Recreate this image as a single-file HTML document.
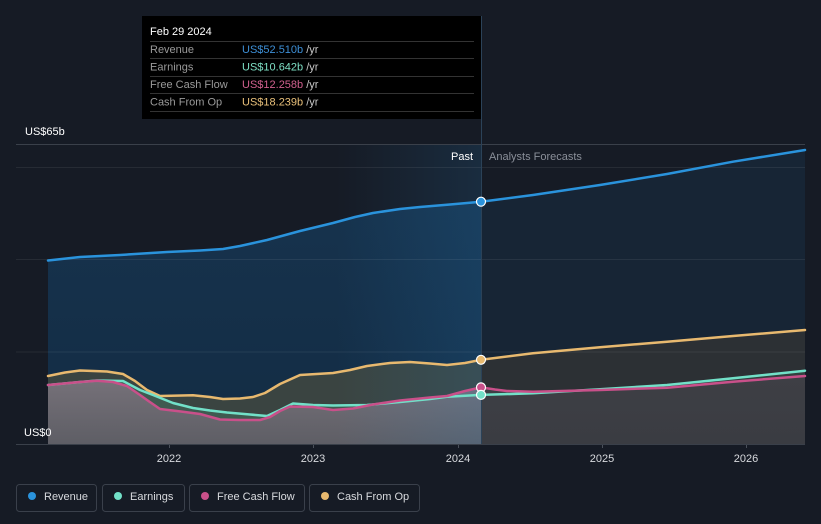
<!DOCTYPE html>
<html>
<head>
<meta charset="utf-8">
<style>
  html,body{margin:0;padding:0;background:#161b25;}
  body{width:821px;height:524px;overflow:hidden;}
  svg{display:block;font-family:"Liberation Sans",sans-serif;}
</style>
</head>
<body>
<svg width="821" height="524" viewBox="0 0 821 524" xmlns="http://www.w3.org/2000/svg">
  <defs>
    <clipPath id="past"><rect x="48" y="100" width="433" height="344.5"/></clipPath>
    <clipPath id="fut"><rect x="481" y="100" width="324" height="344.5"/></clipPath>
    <linearGradient id="hl" x1="0" y1="0" x2="1" y2="0">
      <stop offset="0" stop-color="#2a86c8" stop-opacity="0"/>
      <stop offset="1" stop-color="#2a86c8" stop-opacity="0.16"/>
    </linearGradient>
    <linearGradient id="revPast" x1="0" y1="0" x2="0" y2="1">
      <stop offset="0" stop-color="#17344f"/>
      <stop offset="1" stop-color="#132c44"/>
    </linearGradient>
    <linearGradient id="greyPast" x1="0" y1="0" x2="0" y2="1">
      <stop offset="0" stop-color="#77727a"/>
      <stop offset="1" stop-color="#5e5e65"/>
    </linearGradient>
    <linearGradient id="greyFut" x1="0" y1="0" x2="0" y2="1">
      <stop offset="0" stop-color="#3e3f45"/>
      <stop offset="1" stop-color="#3a3c42"/>
    </linearGradient>
  </defs>

  <rect x="0" y="0" width="821" height="524" fill="#161b25"/>

  <!-- PAST areas -->
  <g clip-path="url(#past)">
    <path fill="url(#revPast)" d="M48,444 L48,260.5 L80,257 L120,255 L167,252 L200,250.5 L223,249 L240,246 L267,240 L300,231 L333,223 L355,217 L373,213 L400,209 L420,207 L450,204.5 L481,201.7 L533,195 L600,185 L667,174 L733,161.7 L805,150 L805,444 Z"/>
    <path fill="#3a4441" d="M48,444 L48,376 L65,372.5 L80,370.5 L107,371.5 L123,374 L135,381 L147,390 L160,396 L193,395.3 L210,397 L223,399 L240,398.5 L253,397 L265,393 L280,384 L300,375 L333,373 L350,370 L367,366 L390,363 L410,362 L430,363.5 L447,365 L465,363 L481,359.8 L533,353.3 L600,347.3 L667,341.7 L733,336 L805,330 L805,444 Z"/>
    <path fill="#3f5a50" d="M48,444 L48,385 L80,382 L97,380.5 L123,381 L140,390 L153,395 L173,403 L193,408 L210,410.5 L227,412.5 L250,414.5 L267,416 L280,410 L293,403.5 L313,405 L333,405.5 L367,405 L400,402 L430,399 L447,396.7 L481,394.9 L533,393.3 L600,389.3 L667,385 L733,378.3 L805,370.7 L805,444 Z"/>
    <path fill="url(#greyPast)" d="M48,444 L48,385 L80,382 L97,380.7 L113,382 L127,386 L140,395 L147,400 L160,409 L183,411.7 L200,414 L220,419.5 L240,420 L260,420 L270,417 L280,411 L290,406.5 L313,407 L333,410 L353,408.5 L373,404.5 L400,400.5 L430,397.5 L447,396 L465,391 L481,387.4 L495,389.5 L507,391 L533,391.7 L600,390 L667,387.7 L733,381.7 L805,376 L805,444 Z"/>
  </g>

  <!-- FUTURE areas -->
  <g clip-path="url(#fut)">
    <path fill="#172535" d="M48,444 L48,260.5 L481,201.7 L533,195 L600,185 L667,174 L733,161.7 L805,150 L805,444 Z"/>
    <path fill="#2c3034" d="M48,444 L481,359.8 L533,353.3 L600,347.3 L667,341.7 L733,336 L805,330 L805,444 Z"/>
    <path fill="#33403f" d="M48,444 L481,394.9 L533,393.3 L600,389.3 L667,385 L733,378.3 L805,370.7 L805,444 Z"/>
    <path fill="url(#greyFut)" d="M48,444 L481,387.4 L495,389.5 L507,391 L533,391.7 L600,390 L667,387.7 L733,381.7 L805,376 L805,444 Z"/>
  </g>

  <!-- past highlight band -->
  <rect x="336" y="145" width="145" height="299" fill="url(#hl)"/>

  <!-- gridlines (over fills) -->
  <line x1="16" y1="144.5" x2="805" y2="144.5" stroke="#3a404a" stroke-width="1"/>
  <line x1="16" y1="167.5" x2="805" y2="167.5" stroke="#ffffff" stroke-opacity="0.07" stroke-width="1"/>
  <line x1="16" y1="259.5" x2="805" y2="259.5" stroke="#ffffff" stroke-opacity="0.07" stroke-width="1"/>
  <line x1="16" y1="352" x2="805" y2="352" stroke="#ffffff" stroke-opacity="0.07" stroke-width="1"/>

  <!-- baseline -->
  <line x1="16" y1="444.5" x2="805" y2="444.5" stroke="#3a404a" stroke-width="1"/>
  <!-- ticks -->
  <g stroke="#4a505a" stroke-width="1">
    <line x1="169.5" y1="445" x2="169.5" y2="448"/>
    <line x1="313.5" y1="445" x2="313.5" y2="448"/>
    <line x1="458.5" y1="445" x2="458.5" y2="448"/>
    <line x1="602.5" y1="445" x2="602.5" y2="448"/>
    <line x1="746.5" y1="445" x2="746.5" y2="448"/>
  </g>

  <!-- vertical divider -->
  <line x1="481.5" y1="16" x2="481.5" y2="444" stroke="#2b4258" stroke-width="1"/>

  <!-- lines -->
  <g fill="none" stroke-width="2.5" stroke-linejoin="round" stroke-linecap="round">
    <path stroke="#2a93dc" d="M48,260.5 L80,257 L120,255 L167,252 L200,250.5 L223,249 L240,246 L267,240 L300,231 L333,223 L355,217 L373,213 L400,209 L420,207 L450,204.5 L481,201.7 L533,195 L600,185 L667,174 L733,161.7 L805,150"/>
    <path stroke="#e8b96f" d="M48,376 L65,372.5 L80,370.5 L107,371.5 L123,374 L135,381 L147,390 L160,396 L193,395.3 L210,397 L223,399 L240,398.5 L253,397 L265,393 L280,384 L300,375 L333,373 L350,370 L367,366 L390,363 L410,362 L430,363.5 L447,365 L465,363 L481,359.8 L533,353.3 L600,347.3 L667,341.7 L733,336 L805,330"/>
    <path stroke="#72e0c8" d="M48,385 L80,382 L97,380.5 L123,381 L140,390 L153,395 L173,403 L193,408 L210,410.5 L227,412.5 L250,414.5 L267,416 L280,410 L293,403.5 L313,405 L333,405.5 L367,405 L400,402 L430,399 L447,396.7 L481,394.9 L533,393.3 L600,389.3 L667,385 L733,378.3 L805,370.7"/>
    <path stroke="#c9508a" d="M48,385 L80,382 L97,380.7 L113,382 L127,386 L140,395 L147,400 L160,409 L183,411.7 L200,414 L220,419.5 L240,420 L260,420 L270,417 L280,411 L290,406.5 L313,407 L333,410 L353,408.5 L373,404.5 L400,400.5 L430,397.5 L447,396 L465,391 L481,387.4 L495,389.5 L507,391 L533,391.7 L600,390 L667,387.7 L733,381.7 L805,376"/>
  </g>

  <!-- dots -->
  <g stroke="#ffffff" stroke-width="1.2">
    <circle cx="481" cy="201.7" r="4.5" fill="#2a93dc"/>
    <circle cx="481" cy="359.8" r="4.5" fill="#e8b96f"/>
    <circle cx="481" cy="387.4" r="4.5" fill="#c9508a"/>
    <circle cx="481" cy="394.9" r="4.5" fill="#72e0c8"/>
  </g>

  <!-- axis labels -->
  <g font-size="11" fill="#ffffff">
    <text x="25" y="135">US$65b</text>
    <text x="24" y="436">US$0</text>
  </g>
  <g font-size="11" fill="#d8dade" text-anchor="middle">
    <text x="169" y="462">2022</text>
    <text x="313" y="462">2023</text>
    <text x="458" y="462">2024</text>
    <text x="602" y="462">2025</text>
    <text x="746" y="462">2026</text>
  </g>
  <text x="473" y="160" font-size="11" fill="#ffffff" text-anchor="end">Past</text>
  <text x="489" y="160" font-size="11" fill="#8a8f99">Analysts Forecasts</text>

  <!-- tooltip -->
  <rect x="142" y="16" width="339" height="103" fill="#000000"/>
  <text x="150" y="35" font-size="11" fill="#ffffff">Feb 29 2024</text>
  <g stroke="#333333" stroke-width="1">
    <line x1="150" y1="41.5" x2="474" y2="41.5"/>
    <line x1="150" y1="58.5" x2="474" y2="58.5"/>
    <line x1="150" y1="76.5" x2="474" y2="76.5"/>
    <line x1="150" y1="93.5" x2="474" y2="93.5"/>
    <line x1="150" y1="111.5" x2="474" y2="111.5"/>
  </g>
  <g font-size="11">
    <text x="150" y="53" fill="#9a9a9a">Revenue</text>
    <text x="242" y="53"><tspan fill="#3d8fd6">US$52.510b</tspan><tspan fill="#c8c8c8"> /yr</tspan></text>
    <text x="150" y="70.5" fill="#9a9a9a">Earnings</text>
    <text x="242" y="70.5"><tspan fill="#7ee0c5">US$10.642b</tspan><tspan fill="#c8c8c8"> /yr</tspan></text>
    <text x="150" y="88" fill="#9a9a9a">Free Cash Flow</text>
    <text x="242" y="88"><tspan fill="#d0608e">US$12.258b</tspan><tspan fill="#c8c8c8"> /yr</tspan></text>
    <text x="150" y="105.5" fill="#9a9a9a">Cash From Op</text>
    <text x="242" y="105.5"><tspan fill="#e9c07a">US$18.239b</tspan><tspan fill="#c8c8c8"> /yr</tspan></text>
  </g>

  <!-- legend -->
  <g fill="none" stroke="#3a404b" stroke-width="1">
    <rect x="16.5" y="484.5" width="80" height="27" rx="3"/>
    <rect x="102.5" y="484.5" width="82" height="27" rx="3"/>
    <rect x="189.5" y="484.5" width="115" height="27" rx="3"/>
    <rect x="309.5" y="484.5" width="110" height="27" rx="3"/>
  </g>
  <circle cx="32" cy="496" r="4" fill="#2a93dc"/>
  <circle cx="118" cy="496" r="4" fill="#72e0c8"/>
  <circle cx="205" cy="496" r="4" fill="#c9508a"/>
  <circle cx="325" cy="496" r="4" fill="#e8b96f"/>
  <g font-size="11" fill="#d8dade">
    <text x="44" y="500">Revenue</text>
    <text x="130" y="500">Earnings</text>
    <text x="217" y="500">Free Cash Flow</text>
    <text x="337" y="500">Cash From Op</text>
  </g>
</svg>
</body>
</html>
